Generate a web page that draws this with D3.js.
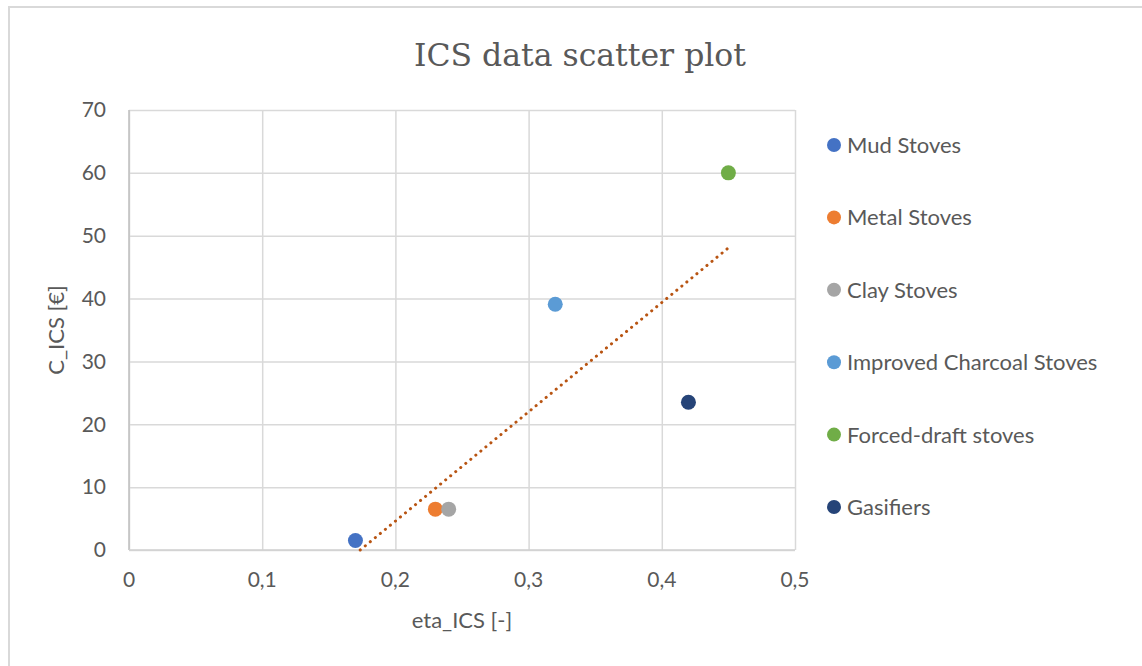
<!DOCTYPE html>
<html>
<head>
<meta charset="utf-8">
<script src="https://cdn.jsdelivr.net/npm/d3@7"></script>
<style>
  body { margin: 0; background: #fff; }
  svg { display: block; }
</style>
</head>
<body>
<div id="chart"></div>
<script>
// series (one point per stove type)
var stoveNames = ["Mud Stoves", "Metal Stoves", "Clay Stoves", "Improved Charcoal Stoves", "Forced-draft stoves", "Gasifiers"];
var etaValues = [0.17, 0.23, 0.24, 0.32, 0.45, 0.42];
var costValues = [1.5, 6.5, 6.5, 39.1, 60, 23.5];
var stoveColors = ["#4472c4", "#ed7d31", "#a5a5a5", "#5b9bd5", "#70ad47", "#264478"];

var xTicks = [0, 0.1, 0.2, 0.3, 0.4, 0.5];
var yTicks = [0, 10, 20, 30, 40, 50, 60, 70];

var width = 1142, height = 666;
var plot = { left: 129, right: 795, top: 110, bottom: 550 };

var svg = d3.select("#chart").append("svg")
    .attr("width", width)
    .attr("height", height);

// outer chart border
svg.append("rect")
    .attr("x", 9).attr("y", 7)
    .attr("width", width + 10).attr("height", height + 10)
    .attr("fill", "none")
    .attr("stroke", "#d9d9d9")
    .attr("stroke-width", 2);

var x = d3.scaleLinear().domain([0, 0.5]).range([plot.left, plot.right]);
var y = d3.scaleLinear().domain([0, 70]).range([plot.bottom, plot.top]);

var fmt = function (d) { return String(d).replace(".", ","); };

// gridlines
svg.append("g")
    .attr("transform", `translate(0, ${plot.bottom})`)
    .call(d3.axisBottom(x).tickValues(xTicks).tickSize(-(plot.bottom - plot.top)).tickFormat(""))
    .call(g => g.select(".domain").remove())
    .selectAll("line").attr("stroke", "#d9d9d9").attr("stroke-width", 1.5);

svg.append("g")
    .attr("transform", `translate(${plot.left}, 0)`)
    .call(d3.axisLeft(y).tickValues(yTicks).tickSize(-(plot.right - plot.left)).tickFormat(""))
    .call(g => g.select(".domain").remove())
    .selectAll("line").attr("stroke", "#d9d9d9").attr("stroke-width", 1.5);

// axis lines
svg.append("line")
    .attr("x1", plot.left).attr("x2", plot.left)
    .attr("y1", plot.top).attr("y2", plot.bottom)
    .attr("stroke", "#bfbfbf").attr("stroke-width", 1.5);
svg.append("line")
    .attr("x1", plot.left).attr("x2", plot.right)
    .attr("y1", plot.bottom).attr("y2", plot.bottom)
    .attr("stroke", "#d0d0d0").attr("stroke-width", 1.5);

// tick labels
var labelFont = "Lato, 'Open Sans', sans-serif";
svg.append("g").selectAll("text")
    .data(xTicks).enter().append("text")
    .attr("x", d => x(d))
    .attr("y", plot.bottom + 37)
    .attr("text-anchor", "middle")
    .attr("font-family", labelFont)
    .attr("font-size", "21px")
    .attr("fill", "#595959")
    .text(fmt);

svg.append("g").selectAll("text")
    .data(yTicks).enter().append("text")
    .attr("x", plot.left - 23)
    .attr("y", d => y(d))
    .attr("dy", "0.35em")
    .attr("text-anchor", "end")
    .attr("font-family", labelFont)
    .attr("font-size", "21px")
    .attr("fill", "#595959")
    .text(fmt);

// axis titles
svg.append("text")
    .attr("x", (plot.left + plot.right) / 2)
    .attr("y", 628)
    .attr("text-anchor", "middle")
    .attr("font-family", labelFont)
    .attr("font-size", "22px")
    .attr("fill", "#595959")
    .text("eta_ICS [-]");

svg.append("text")
    .attr("transform", `translate(64, ${(plot.top + plot.bottom) / 2}) rotate(-90)`)
    .attr("text-anchor", "middle")
    .attr("font-family", labelFont)
    .attr("font-size", "22px")
    .attr("fill", "#595959")
    .text("C_ICS [€]");

// chart title
svg.append("text")
    .attr("x", 580)
    .attr("y", 66)
    .attr("text-anchor", "middle")
    .attr("font-family", "'DejaVu Serif', 'Liberation Serif', serif")
    .attr("font-size", "31.5px")
    .attr("fill", "#595959")
    .text("ICS data scatter plot");

// linear trendline (least squares over all points), clipped to the plot area
var meanX = d3.mean(etaValues), meanY = d3.mean(costValues);
var sxy = d3.sum(etaValues, (v, i) => (v - meanX) * (costValues[i] - meanY));
var sxx = d3.sum(etaValues, v => (v - meanX) * (v - meanX));
var slope = sxy / sxx;
var intercept = meanY - slope * meanX;
var xStart = Math.max(d3.min(etaValues), -intercept / slope);
var xEnd = d3.max(etaValues);

svg.append("line")
    .attr("x1", x(xStart)).attr("y1", y(slope * xStart + intercept))
    .attr("x2", x(xEnd)).attr("y2", y(slope * xEnd + intercept))
    .attr("stroke", "#b85412")
    .attr("stroke-width", 3)
    .attr("stroke-linecap", "round")
    .attr("stroke-dasharray", "0.1 6.4");

// points
svg.append("g").selectAll("circle")
    .data(stoveNames).enter().append("circle")
    .attr("cx", (d, i) => x(etaValues[i]))
    .attr("cy", (d, i) => y(costValues[i]))
    .attr("r", 7.5)
    .attr("fill", (d, i) => stoveColors[i]);

// legend
var legend = svg.append("g").selectAll("g")
    .data(stoveNames).enter().append("g")
    .attr("transform", (d, i) => `translate(834, ${145 + i * 72.4})`);

legend.append("circle")
    .attr("r", 7)
    .attr("fill", (d, i) => stoveColors[i]);

legend.append("text")
    .attr("x", 13)
    .attr("dy", "0.36em")
    .attr("font-family", labelFont)
    .attr("font-size", "22px")
    .attr("fill", "#595959")
    .text(d => d);
</script>
</body>
</html>
